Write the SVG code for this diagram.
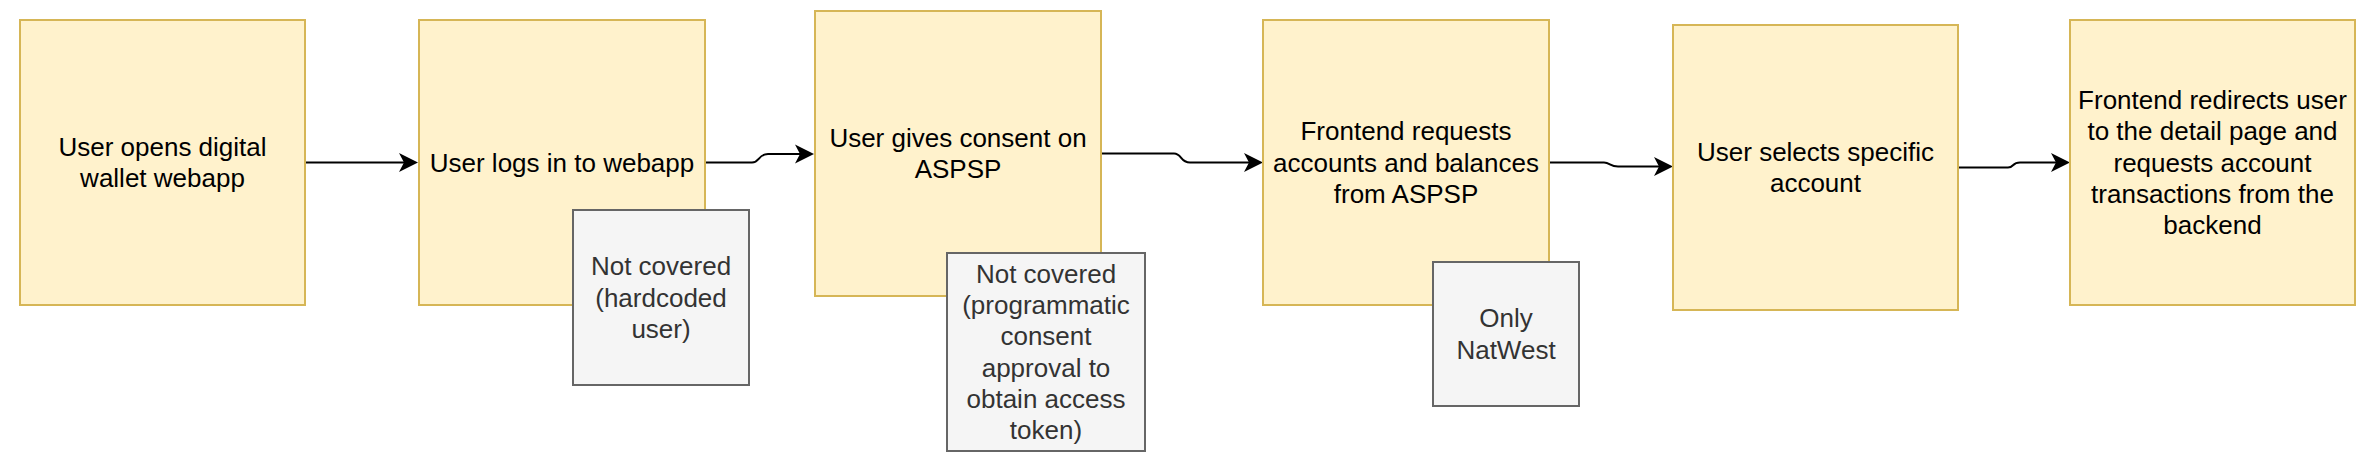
<svg xmlns="http://www.w3.org/2000/svg" width="2378" height="472" viewBox="0 0 2378 472">
  <style>
    .step { fill: #fff2cc; stroke: #d6b656; stroke-width: 2; }
    .note { fill: #f5f5f5; stroke: #666666; stroke-width: 2; }
    .t { font-family: "Liberation Sans", Arial, Helvetica, sans-serif; font-size: 26px; text-anchor: middle; fill: #000000; }
    .nt { font-family: "Liberation Sans", Arial, Helvetica, sans-serif; font-size: 26px; text-anchor: middle; fill: #333333; }
    .edge { fill: none; stroke: #000000; stroke-width: 2; }
  </style>
  <defs>
    <marker id="arrow" viewBox="0 -10 20 20" refX="9" refY="0" markerWidth="20" markerHeight="20" markerUnits="userSpaceOnUse" orient="auto">
      <path d="M0,-9.5 L19,0 L0,9.5 L5,0 Z" fill="#000000"/>
    </marker>
  </defs>
  <rect width="2378" height="472" fill="#ffffff"/>

  <g id="connectors">
    <path class="edge" marker-end="url(#arrow)" d="M305,162.5 L408,162.5"/>
    <path class="edge" marker-end="url(#arrow)" d="M705,162.5 L752,162.5 C760,162.5 758,154 768,154 L804,154"/>
    <path class="edge" marker-end="url(#arrow)" d="M1101,153.5 L1174,153.5 C1182,153.5 1180,162.5 1190,162.5 L1253,162.5"/>
    <path class="edge" marker-end="url(#arrow)" d="M1549,162.5 L1604,162.5 C1610,162.5 1610,166.5 1618,166.5 L1663,166.5"/>
    <path class="edge" marker-end="url(#arrow)" d="M1958,167.5 L2008,167.5 C2014,167.5 2012,162.5 2020,162.5 L2060,162.5"/>
  </g>

  <g id="step1">
    <rect class="step" x="20" y="20" width="285" height="285"/>
    <text class="t" x="162.5" y="155.8">User opens digital</text>
    <text class="t" x="162.5" y="187.2">wallet webapp</text>
  </g>

  <g id="step2">
    <rect class="step" x="419" y="20" width="286" height="285"/>
    <text class="t" x="562" y="171.5">User logs in to webapp</text>
  </g>

  <g id="note1">
    <rect class="note" x="573" y="210" width="176" height="175"/>
    <text class="nt" x="661" y="275.2">Not covered</text>
    <text class="nt" x="661" y="306.5">(hardcoded</text>
    <text class="nt" x="661" y="337.8">user)</text>
  </g>

  <g id="step3">
    <rect class="step" x="815" y="11" width="286" height="285"/>
    <text class="t" x="958" y="146.8">User gives consent on</text>
    <text class="t" x="958" y="178.2">ASPSP</text>
  </g>

  <g id="note2">
    <rect class="note" x="947" y="253" width="198" height="198"/>
    <text class="nt" x="1046" y="282.8">Not covered</text>
    <text class="nt" x="1046" y="314.1">(programmatic</text>
    <text class="nt" x="1046" y="345.4">consent</text>
    <text class="nt" x="1046" y="376.7">approval to</text>
    <text class="nt" x="1046" y="408">obtain access</text>
    <text class="nt" x="1046" y="439.3">token)</text>
  </g>

  <g id="step4">
    <rect class="step" x="1263" y="20" width="286" height="285"/>
    <text class="t" x="1406" y="140.2">Frontend requests</text>
    <text class="t" x="1406" y="171.5">accounts and balances</text>
    <text class="t" x="1406" y="202.8">from ASPSP</text>
  </g>

  <g id="note3">
    <rect class="note" x="1433" y="262" width="146" height="144"/>
    <text class="nt" x="1506" y="327.4">Only</text>
    <text class="nt" x="1506" y="358.7">NatWest</text>
  </g>

  <g id="step5">
    <rect class="step" x="1673" y="25" width="285" height="285"/>
    <text class="t" x="1815.5" y="160.8">User selects specific</text>
    <text class="t" x="1815.5" y="192.2">account</text>
  </g>

  <g id="step6">
    <rect class="step" x="2070" y="20" width="285" height="285"/>
    <text class="t" x="2212.5" y="108.9">Frontend redirects user</text>
    <text class="t" x="2212.5" y="140.2">to the detail page and</text>
    <text class="t" x="2212.5" y="171.5">requests account</text>
    <text class="t" x="2212.5" y="202.8">transactions from the</text>
    <text class="t" x="2212.5" y="234.1">backend</text>
  </g>
</svg>
